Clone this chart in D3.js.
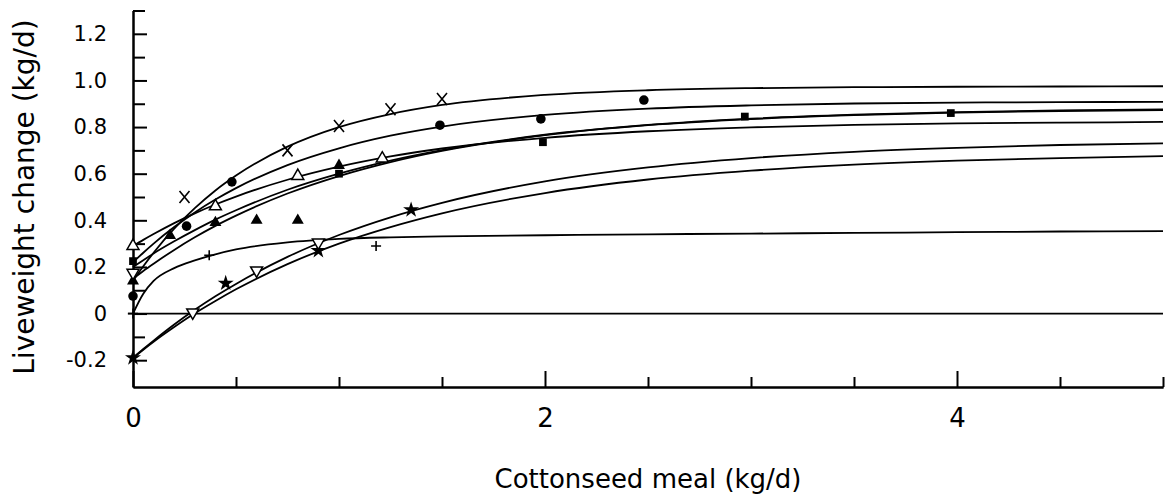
<!DOCTYPE html>
<html>
<head>
<meta charset="utf-8">
<script src="https://d3js.org/d3.v7.min.js"></script>
<style>
    body { margin: 0; background: #fff; }
    .curve { fill: none; stroke: #000; stroke-width: 1.8px; }
    .axis path, .axis line { stroke: #000; stroke-width: 2px; }
    .axis text { font-family: "DejaVu Sans", sans-serif; fill: #000; }
    .title { font-family: "DejaVu Sans", sans-serif; fill: #000; }
</style>
</head>
<body>
<svg id="chart" width="1172" height="496"></svg>

<script>
    // x positions the fitted curves were read at
    const xGrid = [0, 0.05, 0.1, 0.2, 0.3, 0.4, 0.5, 0.75, 1, 1.25, 1.5, 2, 2.5, 3, 3.5, 4, 4.5, 5];

    // fitted response curves (kg/d), one per group
    const curveCross     = [0.14, 0.203, 0.261, 0.364, 0.452, 0.528, 0.592, 0.716, 0.800, 0.856, 0.895, 0.938, 0.958, 0.967, 0.971, 0.973, 0.974, 0.975];
    const curveCircle    = [0.22, 0.261, 0.300, 0.371, 0.434, 0.489, 0.538, 0.637, 0.709, 0.763, 0.802, 0.852, 0.879, 0.893, 0.901, 0.905, 0.907, 0.908];
    const curveOpenTri   = [0.29, 0.316, 0.341, 0.388, 0.430, 0.468, 0.502, 0.574, 0.630, 0.674, 0.708, 0.754, 0.782, 0.799, 0.809, 0.816, 0.819, 0.822];
    const curveSquare    = [0.20, 0.229, 0.258, 0.310, 0.358, 0.403, 0.443, 0.531, 0.600, 0.656, 0.701, 0.767, 0.809, 0.836, 0.853, 0.864, 0.872, 0.876];
    const curveFilledTri = [0.15, 0.183, 0.214, 0.273, 0.327, 0.376, 0.420, 0.515, 0.590, 0.650, 0.698, 0.765, 0.808, 0.834, 0.851, 0.862, 0.869, 0.873];
    const curvePlus      = [0, 0.085, 0.140, 0.195, 0.228, 0.254, 0.275, 0.305, 0.320, 0.327, 0.331, 0.336, 0.340, 0.343, 0.346, 0.349, 0.352, 0.354];
    const curveDownTri   = [-0.19, -0.152, -0.116, -0.047, 0.016, 0.074, 0.127, 0.243, 0.337, 0.413, 0.475, 0.567, 0.627, 0.667, 0.694, 0.711, 0.723, 0.730];
    const curveStar      = [-0.19, -0.155, -0.121, -0.058, 0.001, 0.054, 0.104, 0.212, 0.300, 0.371, 0.430, 0.517, 0.575, 0.613, 0.639, 0.656, 0.667, 0.675];

    // observed points [cottonseed meal, liveweight change]
    const ptsCross     = [[0.25, 0.50], [0.75, 0.70], [1.0, 0.805], [1.25, 0.876], [1.5, 0.92]];
    const ptsCircle    = [[0, 0.075], [0.26, 0.375], [0.48, 0.565], [1.49, 0.808], [1.98, 0.835], [2.48, 0.916]];
    const ptsOpenTri   = [[0, 0.29], [0.4, 0.46], [0.8, 0.59], [1.21, 0.665]];
    const ptsSquare    = [[0, 0.225], [1, 0.60], [1.99, 0.735], [2.97, 0.845], [3.97, 0.86]];
    const ptsFilledTri = [[0, 0.14], [0.18, 0.335], [0.4, 0.39], [0.6, 0.40], [0.8, 0.40], [1, 0.635]];
    const ptsPlus      = [[0, 0], [0.37, 0.25], [1.18, 0.29]];
    const ptsDownTri   = [[0, 0.175], [0.29, 0.005], [0.6, 0.185], [0.9, 0.305]];
    const ptsStar      = [[0, -0.19], [0.45, 0.13], [0.9, 0.27], [1.35, 0.445]];

    const xMajorTicks = [0, 2, 4];
    const xMinorTicks = [0.5, 1, 1.5, 2.5, 3, 3.5, 4.5, 5];
    const yMajorTicks = [-0.2, 0, 0.2, 0.4, 0.6, 0.8, 1.0, 1.2];
    const yMinorTicks = [-0.1, 0.1, 0.3, 0.5, 0.7, 0.9, 1.1, 1.3];

    const svg = d3.select("#chart");
    svg.append("rect").attr("width", 1172).attr("height", 496).attr("fill", "#fff");

    const x = d3.scaleLinear().domain([0, 5]).range([133, 1163]);
    const y = d3.scaleLinear().domain([-0.315, 1.3]).range([387, 10.5]);

    // axes
    svg.append("g").attr("class", "axis").attr("transform", "translate(0,387)")
        .call(d3.axisBottom(x).tickValues(xMinorTicks).tickSize(-10).tickSizeOuter(0).tickFormat(""));
    svg.append("g").attr("class", "axis").attr("transform", "translate(0,387)")
        .call(d3.axisBottom(x).tickValues(xMajorTicks).tickSize(-16).tickSizeOuter(0).tickPadding(22)
            .tickFormat(d3.format("d")))
        .selectAll("text").style("font-size", "26px");

    svg.append("g").attr("class", "axis").attr("transform", "translate(133,0)")
        .call(d3.axisLeft(y).tickValues(yMinorTicks).tickSize(-12).tickSizeOuter(0).tickFormat(""));
    svg.append("g").attr("class", "axis").attr("transform", "translate(133,0)")
        .call(d3.axisLeft(y).tickValues(yMajorTicks).tickSize(-14).tickSizeOuter(0).tickPadding(26)
            .tickFormat(v => Math.abs(v) < 1e-9 ? "0" : v.toFixed(1)))
        .selectAll("text").style("font-size", "21px");

    // zero reference line
    svg.append("line").attr("class", "curve")
        .attr("x1", x(-0.025)).attr("x2", x(5))
        .attr("y1", y(0)).attr("y2", y(0));

    // curves
    const line = d3.line()
        .x(d => x(d[0]))
        .y(d => y(d[1]))
        .curve(d3.curveMonotoneX);

    const curves = [curveCross, curveCircle, curveOpenTri, curveSquare, curveFilledTri, curvePlus, curveDownTri, curveStar];
    curves.forEach(c => {
        svg.append("path")
            .datum(xGrid.map((xv, i) => [xv, c[i]]))
            .attr("class", "curve")
            .attr("d", line);
    });

    // markers
    const marks = svg.append("g");

    function place(pts) {
        return marks.selectAll(null).data(pts).join("g")
            .attr("transform", d => "translate(" + x(d[0]) + "," + y(d[1]) + ")");
    }

    place(ptsCircle).append("path").attr("d", d3.symbol(d3.symbolCircle, 72)).attr("fill", "#000");
    place(ptsSquare).append("path").attr("d", d3.symbol(d3.symbolSquare, 60)).attr("fill", "#000");
    place(ptsFilledTri).append("path").attr("d", d3.symbol(d3.symbolTriangle, 62)).attr("fill", "#000");
    place(ptsStar).append("path").attr("d", d3.symbol(d3.symbolStar, 80)).attr("fill", "#000");

    place(ptsOpenTri).append("path").attr("d", d3.symbol(d3.symbolTriangle, 62))
        .attr("fill", "#fff").attr("stroke", "#000").attr("stroke-width", 1.5);
    place(ptsDownTri).append("path").attr("d", d3.symbol(d3.symbolTriangle, 62))
        .attr("transform", "rotate(180)")
        .attr("fill", "#fff").attr("stroke", "#000").attr("stroke-width", 1.5);

    place(ptsCross).append("path").attr("d", "M-5,-6L5,6M5,-6L-5,6")
        .attr("fill", "none").attr("stroke", "#000").attr("stroke-width", 1.6);
    place(ptsPlus).append("path").attr("d", "M-5,0L5,0M0,-5L0,5")
        .attr("fill", "none").attr("stroke", "#000").attr("stroke-width", 1.6);

    // titles
    svg.append("text").attr("class", "title")
        .attr("x", 648).attr("y", 488)
        .attr("text-anchor", "middle")
        .style("font-size", "26px")
        .text("Cottonseed meal (kg/d)");

    svg.append("text").attr("class", "title")
        .attr("transform", "translate(34,197) rotate(-90)")
        .attr("text-anchor", "middle")
        .style("font-size", "28px")
        .text("Liveweight change (kg/d)");
</script>
</body>
</html>
